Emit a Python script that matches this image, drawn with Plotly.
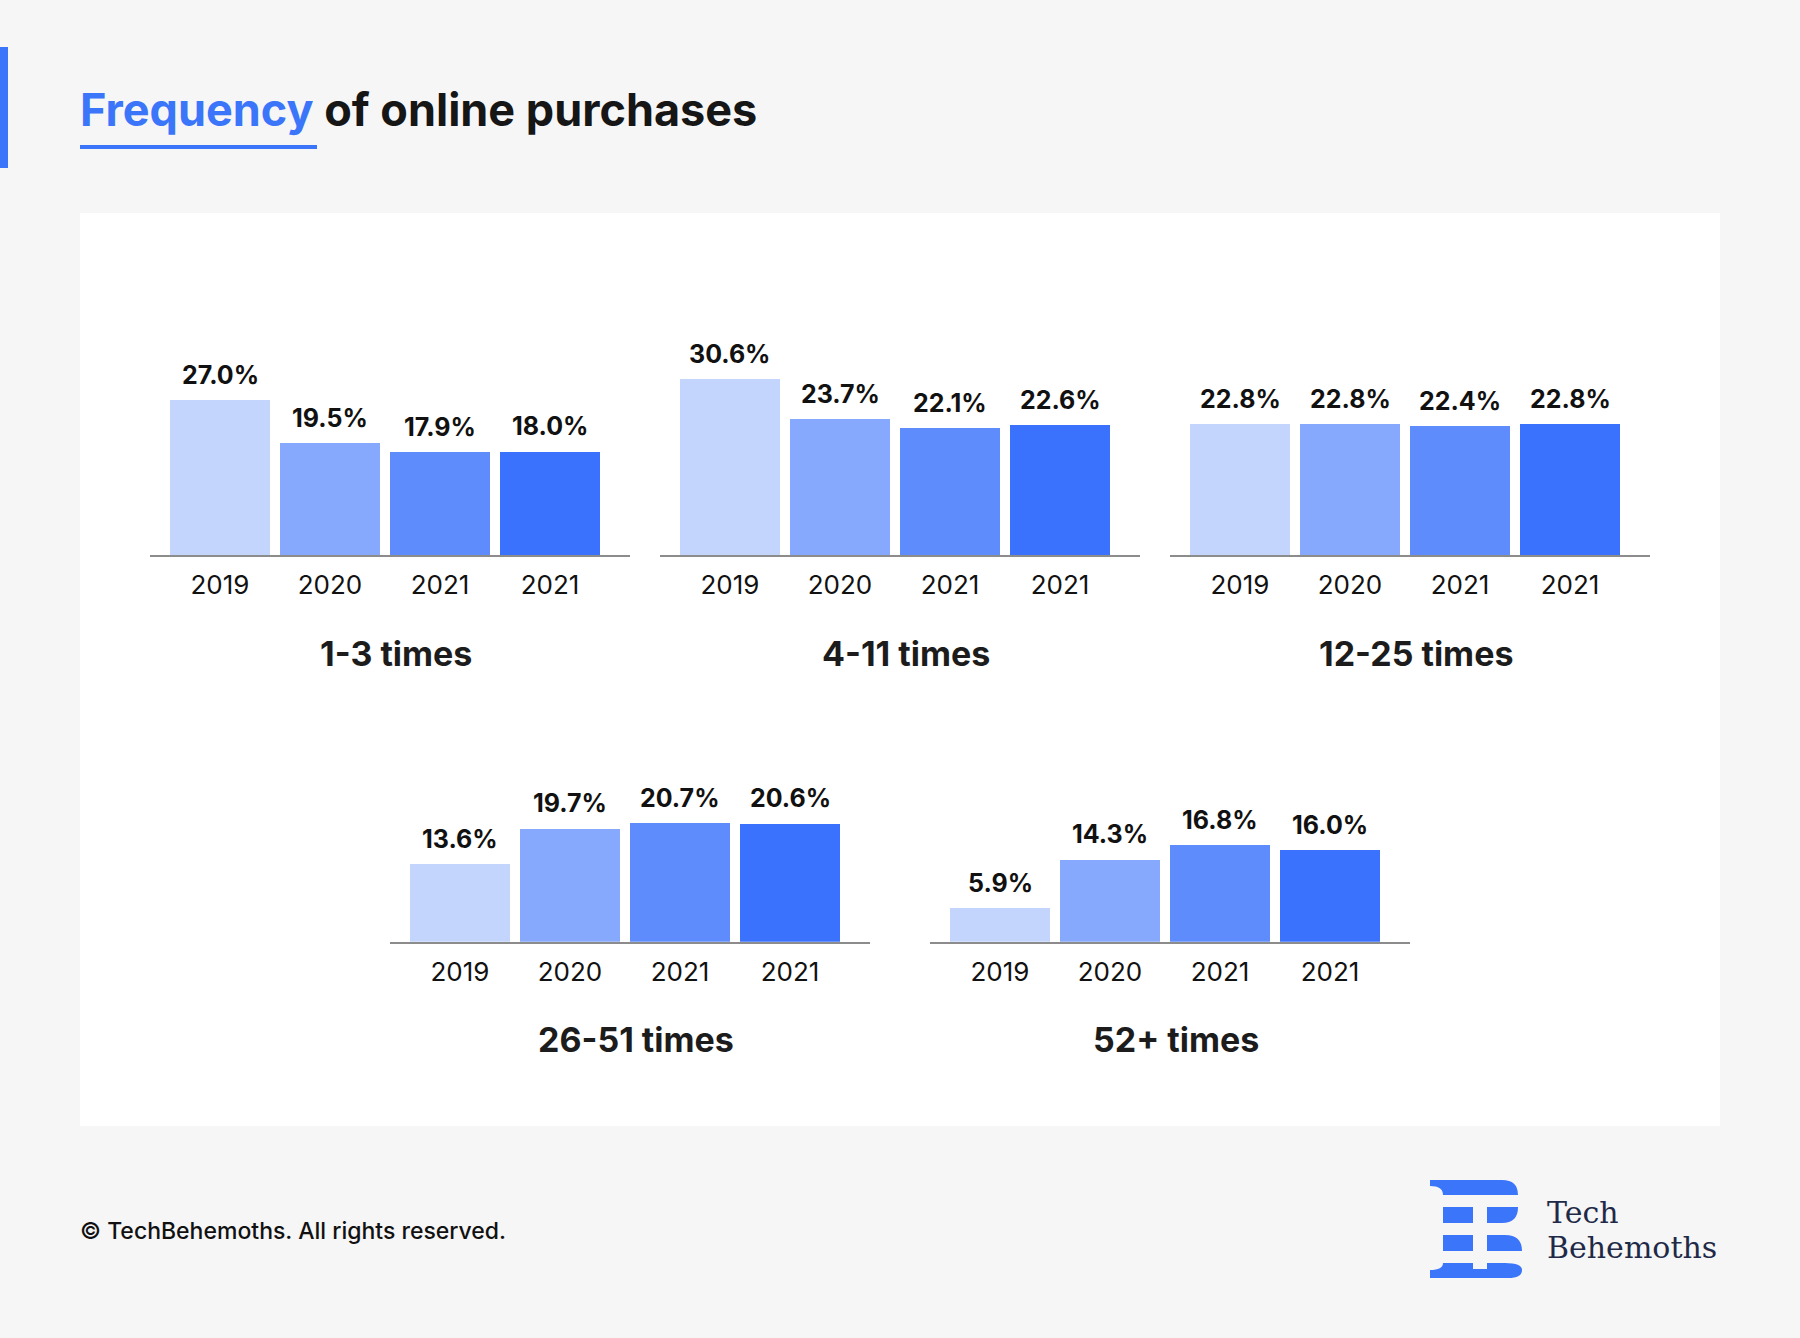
import plotly.graph_objects as go

W, H = 1800, 1338

# ---------------- data ----------------
groups = ["1-3 times", "4-11 times", "12-25 times", "26-51 times", "52+ times"]
years = ["2019", "2020", "2021", "2021"]
v_1_3 = [27.0, 19.5, 17.9, 18.0]
v_4_11 = [30.6, 23.7, 22.1, 22.6]
v_12_25 = [22.8, 22.8, 22.4, 22.8]
v_26_51 = [13.6, 19.7, 20.7, 20.6]
v_52_plus = [5.9, 14.3, 16.8, 16.0]
values = [v_1_3, v_4_11, v_12_25, v_26_51, v_52_plus]

# ---------------- style ----------------
bar_colors = ["#c3d5fd", "#86a8fd", "#5e8cfd", "#3a72fe"]
BLUE = "#3b75f9"
BG = "#f6f6f6"
TXT = "#111111"
FONT = "Inter"

# panel placement in pixels: (axis left, axis right, baseline y)
panels = [(150, 630, 555), (660, 1140, 555), (1170, 1650, 555),
          (390, 870, 941.7), (930, 1410, 941.7)]
PLOT_H = 230
YMAX = 40
STEP = 110.0  # px between bar centres
BARW = 100.0


def px(x):
    return x / W


def py(y):
    return 1 - y / H


fig = go.Figure()
annotations = []
layout_axes = {}

for i, (vals, (l, r, b)) in enumerate(zip(values, panels)):
    n = i + 1
    xa = "x" if n == 1 else f"x{n}"
    ya = "y" if n == 1 else f"y{n}"
    xkey = "xaxis" if n == 1 else f"xaxis{n}"
    ykey = "yaxis" if n == 1 else f"yaxis{n}"
    fig.add_trace(go.Bar(
        x=list(range(len(years))), y=vals,
        marker=dict(color=bar_colors, line=dict(width=0)),
        width=BARW / STEP, xaxis=xa, yaxis=ya,
        showlegend=False, hoverinfo="skip",
    ))
    left_units = -(20 + BARW / 2) / STEP
    right_units = left_units + (r - l) / STEP
    layout_axes[xkey] = dict(
        domain=[px(l), px(r)], anchor=ya, range=[left_units, right_units],
        tickvals=list(range(len(years))), ticktext=years,
        tickfont=dict(family=FONT, size=26, color=TXT),
        ticks="", showgrid=False, zeroline=False,
        showline=True, linecolor="#8c8c8c", linewidth=2,
        ticklabelstandoff=6, fixedrange=True,
    )
    layout_axes[ykey] = dict(
        domain=[py(b), py(b - PLOT_H)], anchor=xa, range=[0, YMAX],
        visible=False, fixedrange=True,
    )
    for j, v in enumerate(vals):
        annotations.append(dict(
            x=j, y=v, xref=xa, yref=ya, text=f"{v:.1f}%",
            showarrow=False, yanchor="bottom", xanchor="center", yshift=8,
            font=dict(family=FONT, size=25, color=TXT, weight=700),
        ))
    annotations.append(dict(
        x=px((l + r) / 2 + 6), y=py(b + 98), xref="paper", yref="paper",
        text=groups[i], showarrow=False, xanchor="center", yanchor="middle",
        font=dict(family=FONT, size=34, color="#1c1c1c", weight=700),
    ))

# title
annotations.append(dict(
    x=px(78), y=py(110), xref="paper", yref="paper", showarrow=False,
    xanchor="left", yanchor="middle",
    text=f"<span style='color:{BLUE}'>Frequency</span> of online purchases",
    font=dict(family=FONT, size=45, color="#161616", weight=700),
))
# footer
annotations.append(dict(
    x=px(78), y=py(1231), xref="paper", yref="paper", showarrow=False,
    xanchor="left", yanchor="middle",
    text="© TechBehemoths. All rights reserved.",
    font=dict(family=FONT, size=23, color=TXT, weight=500),
))
# logo words
for word, yc in [("Tech", 1212), ("Behemoths", 1247)]:
    annotations.append(dict(
        x=px(1545), y=py(yc), xref="paper", yref="paper", showarrow=False,
        xanchor="left", yanchor="middle", text=word,
        font=dict(family="DejaVu Serif", size=30, color="#1e2a47"),
    ))


def rect(x0, y0, x1, y1, color, layer="below"):
    return dict(type="rect", xref="paper", yref="paper",
                x0=px(x0), x1=px(x1), y0=py(y1), y1=py(y0),
                fillcolor=color, line=dict(width=0), layer=layer)


def path(cmds, color):
    parts = []
    for c in cmds:
        op, nums = c[0], c[1:]
        coords = []
        for k in range(0, len(nums), 2):
            coords.append(f"{px(nums[k]):.6f},{py(nums[k + 1]):.6f}")
        parts.append(op + " " + " ".join(coords))
    return dict(type="path", xref="paper", yref="paper",
                path=" ".join(parts) + " Z",
                fillcolor=color, line=dict(width=0), layer="above")


shapes = [
    rect(80, 213, 1720, 1126, "#ffffff"),
    rect(0, 47, 8, 168, BLUE, "above"),
    rect(80, 145, 317, 149, BLUE, "above"),
    # logo mark
    path([("M", 1430, 1180), ("L", 1502, 1180), ("Q", 1518, 1180, 1518, 1195),
          ("L", 1443, 1195), ("Q", 1443, 1186, 1430, 1186)], BLUE),
    rect(1443, 1207, 1473, 1223, BLUE, "above"),
    path([("M", 1487, 1207), ("L", 1518, 1207), ("Q", 1518, 1223, 1502, 1223),
          ("L", 1487, 1223)], BLUE),
    rect(1443, 1235, 1473, 1251, BLUE, "above"),
    path([("M", 1487, 1235), ("L", 1505, 1235), ("Q", 1522, 1235, 1522, 1251),
          ("L", 1487, 1251)], BLUE),
    path([("M", 1430, 1278), ("L", 1430, 1270), ("Q", 1443, 1270, 1443, 1263),
          ("L", 1473, 1263), ("L", 1473, 1269), ("L", 1487, 1269),
          ("L", 1487, 1263), ("L", 1505, 1263), ("Q", 1522, 1263, 1522, 1270),
          ("Q", 1522, 1278, 1508, 1278)], BLUE),
]

fig.update_layout(
    width=W, height=H, margin=dict(l=0, r=0, t=0, b=0),
    paper_bgcolor=BG, plot_bgcolor="rgba(0,0,0,0)",
    bargap=0, annotations=annotations, shapes=shapes,
    font=dict(family=FONT), **layout_axes,
)

fig.write_html("out.html")
